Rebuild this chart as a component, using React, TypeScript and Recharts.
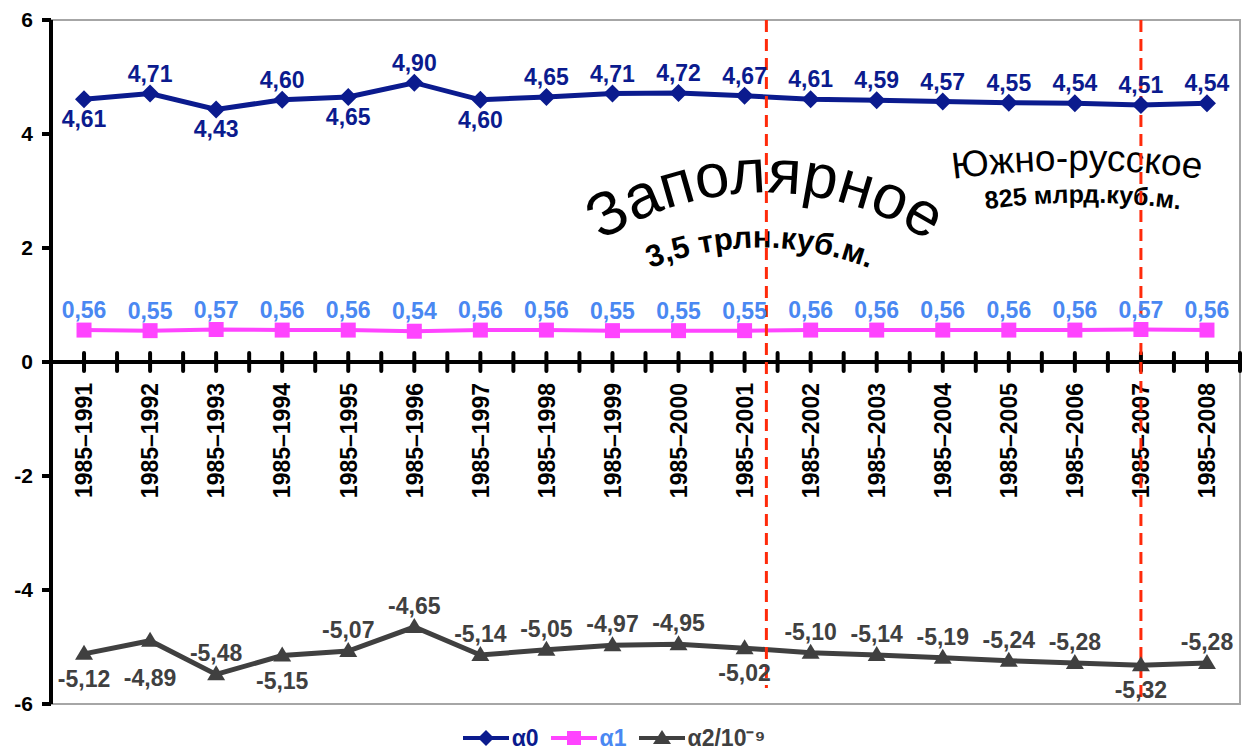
import React from 'react';
import {
  ComposedChart,
  Line,
  XAxis,
  YAxis,
  ReferenceLine,
  ReferenceArea,
  Legend,
  Customized,
  LabelList,
} from 'recharts';

// ---------- data ----------
const categories = [
  '1985\u20131991', '1985\u20131992', '1985\u20131993', '1985\u20131994', '1985\u20131995', '1985\u20131996',
  '1985\u20131997', '1985\u20131998', '1985\u20131999', '1985\u20132000', '1985\u20132001', '1985\u20132002',
  '1985\u20132003', '1985\u20132004', '1985\u20132005', '1985\u20132006', '1985\u20132007', '1985\u20132008',
];
const alpha0 = [4.61, 4.71, 4.43, 4.6, 4.65, 4.9, 4.6, 4.65, 4.71, 4.72, 4.67, 4.61, 4.59, 4.57, 4.55, 4.54, 4.51, 4.54];
const alpha1 = [0.56, 0.55, 0.57, 0.56, 0.56, 0.54, 0.56, 0.56, 0.55, 0.55, 0.55, 0.56, 0.56, 0.56, 0.56, 0.56, 0.57, 0.56];
const alpha2 = [-5.12, -4.89, -5.48, -5.15, -5.07, -4.65, -5.14, -5.05, -4.97, -4.95, -5.02, -5.1, -5.14, -5.19, -5.24, -5.28, -5.32, -5.28];
const yTicks = [-6, -4, -2, 0, 2, 4, 6];
// label placement (styling) per point
const alpha0Place = ['below', 'above', 'below', 'above', 'below', 'above', 'below', 'above', 'above', 'above', 'above', 'above', 'above', 'above', 'above', 'above', 'above', 'above'];
const alpha2Place = ['below', 'below2', 'above', 'below', 'above', 'above', 'above', 'above', 'above', 'above', 'below', 'above', 'above', 'above', 'above', 'above', 'below', 'above'];
// boundaries of deposits (category index positions)
const boundaryZapolyarnoe = 10.33;
const boundaryYuzhno = 16;

const data = categories.map((cat, i) => ({
  idx: i,
  cat,
  a0: alpha0[i],
  a1: alpha1[i],
  a2: alpha2[i],
}));

// ---------- styles ----------
const FONT = '"Liberation Sans", Arial, sans-serif';
const C0 = '#0B1B8E';
const C1 = '#FF44FF';
const C1_TEXT = '#4A88F2';
const C2 = '#404040';
const RED = '#FF2A0A';

const fmt = (v: number) => v.toFixed(2).replace('.', ',');

const makeLabel = (color: string, places: string[] | null, isA2 = false) => (props: any) => {
  const x = props.x ?? props.viewBox?.x;
  const y = props.y ?? props.viewBox?.y;
  const index = props.index;
  const place = places ? places[index] : 'above';
  let dy = -12;
  if (place === 'below') dy = isA2 ? 33 : 28;
  if (place === 'below2') dy = 45;
  if (isA2 && place === 'above') dy = -13;
  return (
    <text
      x={x}
      y={y + dy}
      textAnchor="middle"
      fill={color}
      fontSize={23}
      fontWeight="bold"
      fontFamily={FONT}
    >
      {fmt(Number(props.value))}
    </text>
  );
};

const Diamond = (props: any) => {
  const { cx, cy } = props;
  if (cx == null || cy == null) return <g />;
  const r = 9;
  return <polygon points={`${cx},${cy - r} ${cx + r},${cy} ${cx},${cy + r} ${cx - r},${cy}`} fill={C0} />;
};
const Square = (props: any) => {
  const { cx, cy } = props;
  if (cx == null || cy == null) return <g />;
  const s = 15;
  return <rect x={cx - s / 2} y={cy - s / 2} width={s} height={s} fill={C1} />;
};
const Triangle = (props: any) => {
  const { cx, cy } = props;
  if (cx == null || cy == null) return <g />;
  return <polygon points={`${cx},${cy - 9} ${cx + 9},${cy + 6} ${cx - 9},${cy + 6}`} fill={C2} />;
};

// zero-axis: line, tick marks and rotated category labels placed on y=0
const ZeroAxis = (props: any) => {
  const { x1, x2, y1 } = props;
  const n = categories.length;
  const half = (x2 - x1) / (2 * n);
  const ticks = [];
  for (let k = 1; k <= 2 * n; k++) {
    const x = x1 + k * half;
    ticks.push(<line key={'t' + k} x1={x} x2={x} y1={y1 - 9} y2={y1 + 9} stroke="#000" strokeWidth={4} strokeLinecap="round" />);
  }
  const labels = categories.map((c, i) => {
    const x = x1 + (2 * i + 1) * half;
    const y = y1 + 21;
    return (
      <text
        key={'l' + i}
        x={x}
        y={y}
        transform={`rotate(-90 ${x} ${y})`}
        textAnchor="end"
        dy="0.36em"
        fontSize={23}
        fontWeight="bold"
        fontFamily={FONT}
        fill="#000"
      >
        {c}
      </text>
    );
  });
  return (
    <g>
      <line x1={x1} x2={x2} y1={y1} y2={y1} stroke="#000" strokeWidth={4} />
      {ticks}
      {labels}
    </g>
  );
};

const annotations = [
  { id: 'arc-zap', text: 'Заполярное', d: 'M 535 300 A 300 300 0 0 1 995 300', size: 62, weight: 'normal' },
  { id: 'arc-zap-sub', text: '3,5 трлн.куб.м.', d: 'M 567 318 A 300 300 0 0 1 953 318', size: 31, weight: 'bold' },
  { id: 'arc-yu', text: 'Южно-русское', d: 'M 890 190 A 900 900 0 0 1 1264 190', size: 37, weight: 'normal' },
  { id: 'arc-yu-sub', text: '825 млрд.куб.м.', d: 'M 937 218 A 700 700 0 0 1 1229 218', size: 25, weight: 'bold' },
];

const CurvedLabels = () => (
  <g>
    <defs>
      {annotations.map((a) => (
        <path key={a.id} id={a.id} d={a.d} fill="none" />
      ))}
    </defs>
    {annotations.map((a) => (
      <text key={a.id + 't'} fontSize={a.size} fontWeight={a.weight} fontFamily={FONT} fill="#000">
        <textPath href={'#' + a.id} startOffset="50%" textAnchor="middle">
          {a.text}
        </textPath>
      </text>
    ))}
  </g>
);

const legendItems = [
  { name: 'α0', line: C0, text: C0, marker: 'diamond' },
  { name: 'α1', line: C1, text: C1_TEXT, marker: 'square' },
  { name: 'α2/10⁻⁹', line: C2, text: C2, marker: 'triangle' },
];

const LegendContent = () => (
  <div
    style={{
      display: 'flex',
      justifyContent: 'center',
      alignItems: 'center',
      height: 26,
      fontFamily: FONT,
      fontWeight: 'bold',
      fontSize: 23,
      lineHeight: '26px',
    }}
  >
    {legendItems.map((it) => (
      <div key={it.name} style={{ display: 'flex', alignItems: 'center', marginRight: 12 }}>
        <svg width={46} height={20} style={{ marginRight: 3 }}>
          <line x1={0} x2={46} y1={10} y2={10} stroke={it.line} strokeWidth={4} />
          {it.marker === 'diamond' && <polygon points="23,2 31,10 23,18 15,10" fill={it.line} />}
          {it.marker === 'square' && <rect x={16} y={3} width={14} height={14} fill={it.line} />}
          {it.marker === 'triangle' && <polygon points="23,2 32,16 14,16" fill={it.line} />}
        </svg>
        <span style={{ color: it.text }}>{it.name}</span>
      </div>
    ))}
  </div>
);

export default function App() {
  return (
    <div style={{ position: 'absolute', left: 0, top: 0, width: 1247, height: 751, background: '#fff' }}>
      <ComposedChart
        width={1247}
        height={751}
        data={data}
        margin={{ top: 20, right: 7, left: 0, bottom: 21 }}
      >
        <XAxis dataKey="idx" type="number" domain={[-0.5, 17.5]} hide allowDataOverflow />
        <YAxis
          type="number"
          domain={[-6, 6]}
          ticks={yTicks}
          interval={0}
          width={51}
          allowDataOverflow
          axisLine={{ stroke: '#000', strokeWidth: 4 }}
          tickLine={{ stroke: '#000', strokeWidth: 4 }}
          tickSize={9}
          tickMargin={9}
          tick={{ fill: '#000', fontSize: 21, fontWeight: 'bold', fontFamily: FONT }}
        />
        <ReferenceArea x1={-0.5} x2={17.5} y1={-6} y2={6} fill="none" stroke="#A6A6A6" strokeWidth={2} />
        <Customized component={CurvedLabels} />
        <ReferenceLine y={0} shape={ZeroAxis} />
        <Line
          dataKey="a0"
          stroke={C0}
          strokeWidth={5}
          dot={Diamond}
          activeDot={false}
          isAnimationActive={false}
        >
          <LabelList dataKey="a0" content={makeLabel(C0, alpha0Place)} />
        </Line>
        <Line
          dataKey="a1"
          stroke={C1}
          strokeWidth={4}
          dot={Square}
          activeDot={false}
          isAnimationActive={false}
        >
          <LabelList dataKey="a1" content={makeLabel(C1_TEXT, null)} />
        </Line>
        <Line
          dataKey="a2"
          stroke={C2}
          strokeWidth={5}
          dot={Triangle}
          activeDot={false}
          isAnimationActive={false}
        >
          <LabelList dataKey="a2" content={makeLabel(C2, alpha2Place, true)} />
        </Line>
        <ReferenceLine
          segment={[{ x: boundaryZapolyarnoe, y: 6 }, { x: boundaryZapolyarnoe, y: -5.72 }]}
          stroke={RED}
          strokeWidth={3}
          strokeDasharray="12 7"
        />
        <ReferenceLine
          segment={[{ x: boundaryYuzhno, y: 6 }, { x: boundaryYuzhno, y: -5.98 }]}
          stroke={RED}
          strokeWidth={3}
          strokeDasharray="12 7"
        />
        <Legend verticalAlign="bottom" height={26} content={LegendContent} wrapperStyle={{ bottom: 0 }} />
      </ComposedChart>
    </div>
  );
}
